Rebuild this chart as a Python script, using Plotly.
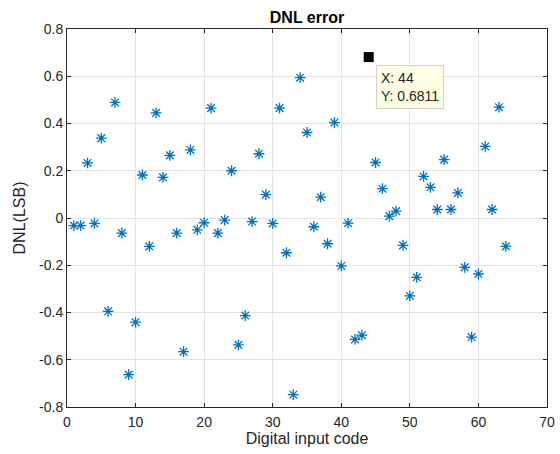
import plotly.graph_objects as go

codes = list(range(1, 65))
dnl = [-0.032, -0.032, 0.233, -0.023, 0.338, -0.395, 0.489, -0.064, -0.663, -0.441,
       0.182, -0.120, 0.445, 0.172, 0.265, -0.064, -0.566, 0.288, -0.050, -0.020,
       0.465, -0.064, -0.009, 0.200, -0.537, -0.413, -0.015, 0.272, 0.099, -0.023,
       0.465, -0.147, -0.748, 0.594, 0.362, -0.037, 0.088, -0.109, 0.404, -0.203,
       -0.022, -0.514, -0.496, 0.6811, 0.235, 0.124, 0.008, 0.029, -0.116, -0.330,
       -0.251, 0.176, 0.130, 0.036, 0.247, 0.036, 0.106, -0.209, -0.504, -0.237,
       0.303, 0.036, 0.469, -0.120]

tip_x = 44
tip_y = 0.6811

x_ticks = [0, 10, 20, 30, 40, 50, 60, 70]
y_ticks = [-0.8, -0.6, -0.4, -0.2, 0, 0.2, 0.4, 0.6, 0.8]
y_ticktext = ["-0.8", "-0.6", "-0.4", "-0.2", "0", "0.2", "0.4", "0.6", "0.8"]

font_family = "Liberation Sans, Arial, sans-serif"
axis_col = "#262626"

fig = go.Figure()
scatter_x = [c for c in codes if c != tip_x]
scatter_y = [v for c, v in zip(codes, dnl) if c != tip_x]
fig.add_trace(go.Scatter(
    x=scatter_x, y=scatter_y, mode="markers",
    marker=dict(symbol="asterisk-open", size=9, color="#0072BD",
                line=dict(color="#0072BD", width=1.3)),
    showlegend=False, hoverinfo="skip"))
fig.add_trace(go.Scatter(
    x=[tip_x], y=[tip_y], mode="markers",
    marker=dict(symbol="square", size=10, color="black",
                line=dict(color="black", width=0)),
    showlegend=False, hoverinfo="skip"))

fig.add_annotation(
    x=tip_x + 1.1, y=tip_y - 0.033, xref="x", yref="y",
    xanchor="left", yanchor="top", showarrow=False, align="left",
    text="X: 44<br>Y: 0.6811",
    font=dict(family=font_family, size=14, color="#262626"),
    bgcolor="#FFFFE6", bordercolor="#D2D2BE", borderwidth=1, borderpad=4)

axis_common = dict(
    showline=True, linecolor=axis_col, linewidth=1, mirror="ticks",
    ticks="inside", ticklen=4, tickcolor=axis_col, automargin=False,
    showgrid=True, gridcolor="#E3E3E3", gridwidth=1, zeroline=False,
    tickfont=dict(family=font_family, size=14, color=axis_col),
)

fig.update_xaxes(range=[0, 70], tickvals=x_ticks, ticklabelstandoff=2,
                 title=dict(text="Digital input code", standoff=4,
                            font=dict(family=font_family, size=16, color=axis_col)),
                 **axis_common)
fig.update_yaxes(range=[-0.8, 0.8], tickvals=y_ticks, ticktext=y_ticktext,
                 title=dict(text="DNL(LSB)", standoff=9,
                            font=dict(family=font_family, size=16, color=axis_col)),
                 **axis_common)

fig.update_layout(
    width=560, height=454,
    margin=dict(l=67, r=13, t=29, b=47),
    paper_bgcolor="white", plot_bgcolor="white",
    title=dict(text="<b>DNL error</b>", x=0.5, xanchor="center", xref="paper",
               y=0.962, yanchor="middle",
               font=dict(family=font_family, size=16, color="black")),
)

fig.write_html("out.html")
